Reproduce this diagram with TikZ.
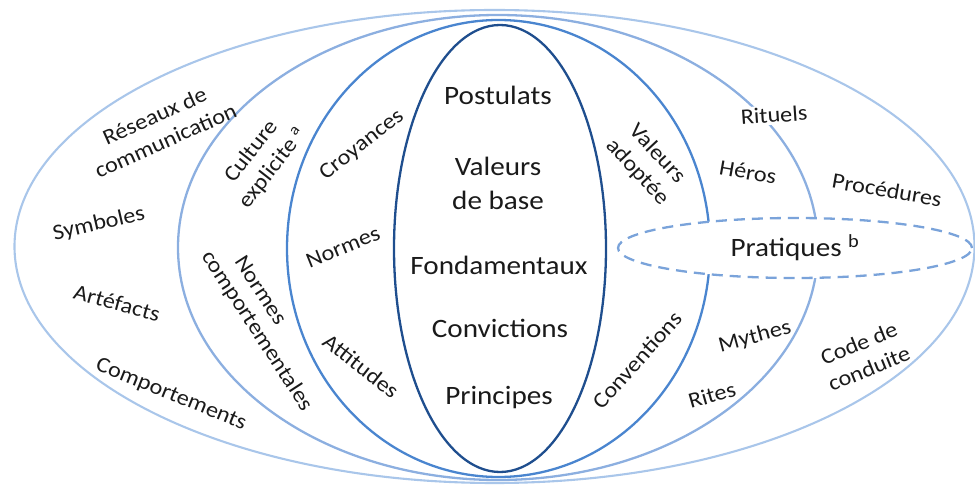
\documentclass[tikz,border=0pt]{standalone}
\usepackage{fontspec}
\setmainfont{Carlito}[FakeStretch=1.1]
\definecolor{cOut}{HTML}{A9C6EA}
\definecolor{cThree}{HTML}{8CAFE0}
\definecolor{cTwo}{HTML}{4A85CF}
\definecolor{cIn}{HTML}{1F4E8E}
\definecolor{cDash}{HTML}{7AA3DA}
\definecolor{txt}{HTML}{1A1A1A}
\begin{document}
\begin{tikzpicture}[x=1pt,y=-1pt,
  ring/.style={line width=2.3pt},
  big/.style={font=\fontsize{26.5}{34}\selectfont, align=center, inner sep=0pt, text=txt},
  lab/.style={font=\fontsize{22}{27}\selectfont, align=center, inner sep=0pt, text=txt}]
\useasboundingbox (0,0) rectangle (975,486);
% rings
\draw[ring, cThree] (498,247.5) ellipse [x radius=320pt, y radius=232.5pt];
\draw[ring, cTwo] (498.5,248.5) ellipse [x radius=211.5pt, y radius=228.5pt];
\draw[ring, cDash, dash pattern=on 11pt off 7pt, fill=white] (795,248) ellipse [x radius=177pt, y radius=30pt];
\draw[ring, cOut, line width=2.1pt] (494.5,246.5) ellipse [x radius=480pt, y radius=236.5pt];
\draw[ring, cIn] (500,248.5) ellipse [x radius=106pt, y radius=223.5pt];
% core
\node[big] (post) at (498,95) {Postulats};
\node[big] (vdb) at (498,183) {Valeurs\\de base};
\node[big] (fond) at (499,265) {Fondamentaux};
\node[big] (conv) at (500,328) {Convictions};
\node[big] (princ) at (499,398) {Principes};
% left rings
\node[lab, rotate=24] (reseaux) at (160,128) {Réseaux de\\communication};
\node[lab, rotate=13] (symb) at (99,224) {Symboles};
\node[lab, rotate=-15] (artef) at (117,303) {Artéfacts};
\node[lab, rotate=-22] (compt) at (171,395) {Comportements};
\node[lab, rotate=52] (cult) at (262,160) {Culture\\explicite \textsuperscript{a}};
\node[lab, rotate=-57] (normesA) at (261,290) {Normes};
\node[lab, rotate=-57] (normesB) at (257,331) {comportementales};
\node[lab, rotate=38] (croy) at (362,145) {Croyances};
\node[lab, rotate=22] (normes) at (343,247) {Normes};
\node[lab, rotate=-38] (attit) at (361,366) {Attitudes};
% right rings
\node[lab, rotate=-47] (vadopt) at (647,163) {Valeurs\\adoptée};
\node[lab, rotate=48] (convs) at (637,360) {Conventions};
\node[lab, rotate=4, fill=white, inner sep=2pt] (rituels) at (774,115) {Rituels};
\node[lab, rotate=-10] (heros) at (748,172) {Héros};
\node[lab, rotate=-10] (proc) at (887,190) {Procédures};
\node[big] (prat) at (795,248) {Pratiques \textsuperscript{b}};
\node[lab, rotate=15] (mythes) at (755,337) {Mythes};
\node[lab, rotate=16] (rites) at (712,395) {Rites};
\node[lab, rotate=22] (code) at (864,356) {Code de\\conduite};
\end{tikzpicture}
\end{document}
